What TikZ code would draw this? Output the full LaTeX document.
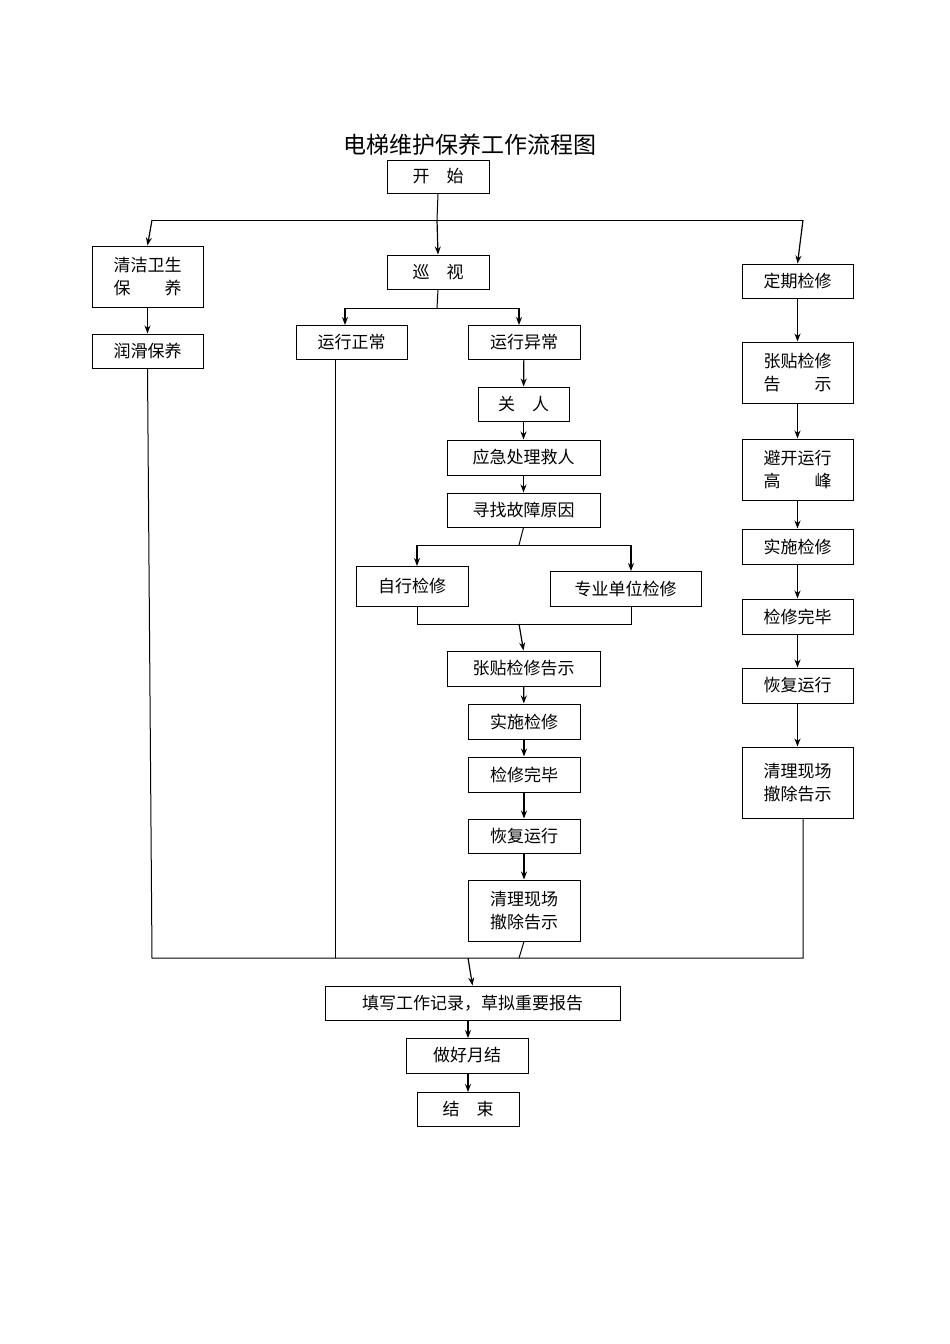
\documentclass[tikz,border=0pt]{standalone}
\usepackage{fontspec}
\newfontfamily\cjk{Noto Sans CJK SC}
\usetikzlibrary{arrows.meta}
\tikzset{box/.style={draw,line width=1pt,inner sep=0pt,font=\cjk\fontsize{17}{23}\selectfont,align=center},
arr/.style={line width=1.2pt,-{Stealth[length=8pt,width=6pt]}},
ln/.style={line width=1pt}}
\newcommand{\bx}[6]{\node[box,minimum width=#4-#2,minimum height=#5-#3] (#1) at ({(#2+#4)/2},{(#3+#5)/2}) {#6};}
\begin{document}
\begin{tikzpicture}[x=1pt,y=-1pt]
\useasboundingbox (0,0) rectangle (950,1344);
\node[font=\cjk\fontsize{23}{26}\selectfont] (title) at (470,145) {电梯维护保养工作流程图};
\bx{start}{387}{160}{489}{193}{开　始}
\bx{qj}{92}{246}{203}{307}{清洁卫生\\保　　养}
\bx{rh}{92}{334}{203}{368}{润滑保养}
\bx{xs}{387}{255}{489}{289}{巡　视}
\bx{zc}{296}{325}{407}{359}{运行正常}
\bx{yc}{468}{325}{580}{359}{运行异常}
\bx{gr}{478}{387}{569}{421}{关　人}
\bx{yj}{447}{440}{600}{475}{应急处理救人}
\bx{xz}{447}{493}{600}{527}{寻找故障原因}
\bx{zx}{356}{566}{468}{606}{自行检修}
\bx{zy}{550}{571}{701}{606}{专业单位检修}
\bx{zt}{447}{651}{600}{686}{张贴检修告示}
\bx{ss}{468}{704}{580}{739}{实施检修}
\bx{wb}{468}{757}{580}{792}{检修完毕}
\bx{hf}{468}{819}{580}{853}{恢复运行}
\bx{ql}{468}{880}{580}{941}{清理现场\\撤除告示}
\bx{dq}{742}{264}{853}{298}{定期检修}
\bx{rzt}{742}{342}{853}{403}{张贴检修\\告　　示}
\bx{bk}{742}{439}{853}{500}{避开运行\\高　　峰}
\bx{rss}{742}{529}{853}{564}{实施检修}
\bx{rwb}{742}{599}{853}{634}{检修完毕}
\bx{rhf}{742}{668}{853}{703}{恢复运行}
\bx{rql}{742}{747}{853}{818}{清理现场\\撤除告示}
\bx{tx}{325}{986}{620}{1020}{填写工作记录，草拟重要报告}
\bx{yj2}{406}{1038}{528}{1073}{做好月结}
\bx{js}{417}{1092}{519}{1126}{结　束}
\coordinate (c1) at (437,220);
\draw[ln] (start.south) -- (c1);
\draw[ln] (152,220) -- (803,220);
\draw[arr] (152,220) -- (qj.north);
\draw[arr] (c1) -- (xs.north);
\draw[arr] (803,220) -- (dq.north);
\draw[arr] (qj) -- (rh);
\draw[ln] (xs.south) -- (437,308);
\draw[ln] (345,308) -- (519,308);
\draw[arr] (345,308) -- (345,325);
\draw[arr] (519,308) -- (519,325);
\draw[arr] (yc) -- (gr);
\draw[arr] (gr) -- (yj);
\draw[arr] (yj) -- (xz);
\draw[ln] (xz.south) -- (519,545);
\draw[ln] (417,545) -- (631,545);
\draw[arr] (417,545) -- (417,566);
\draw[arr] (631,545) -- (631,571);
\draw[ln] (417,606) -- (417,624) -- (631,624) -- (631,606);
\draw[arr] (519,624) -- (zt.north);
\draw[arr] (zt) -- (ss);
\draw[arr] (ss) -- (wb);
\draw[arr] (wb) -- (hf);
\draw[arr] (hf) -- (ql);
\draw[arr] (dq) -- (rzt);
\draw[arr] (rzt) -- (bk);
\draw[arr] (bk) -- (rss);
\draw[arr] (rss) -- (rwb);
\draw[arr] (rwb) -- (rhf);
\draw[arr] (rhf) -- (rql);
\draw[ln] (rh.south) -- (152,958) -- (803,958) -- (803,818);
\draw[ln] (335,359) -- (335,958);
\draw[ln] (ql.south) -- (519,958);
\draw[arr] (468,958) -- (tx.north);
\draw[arr] (tx.south -| 468,0) -- (468,1038);
\draw[arr] (468,1073) -- (468,1092);
\end{tikzpicture}
\end{document}
